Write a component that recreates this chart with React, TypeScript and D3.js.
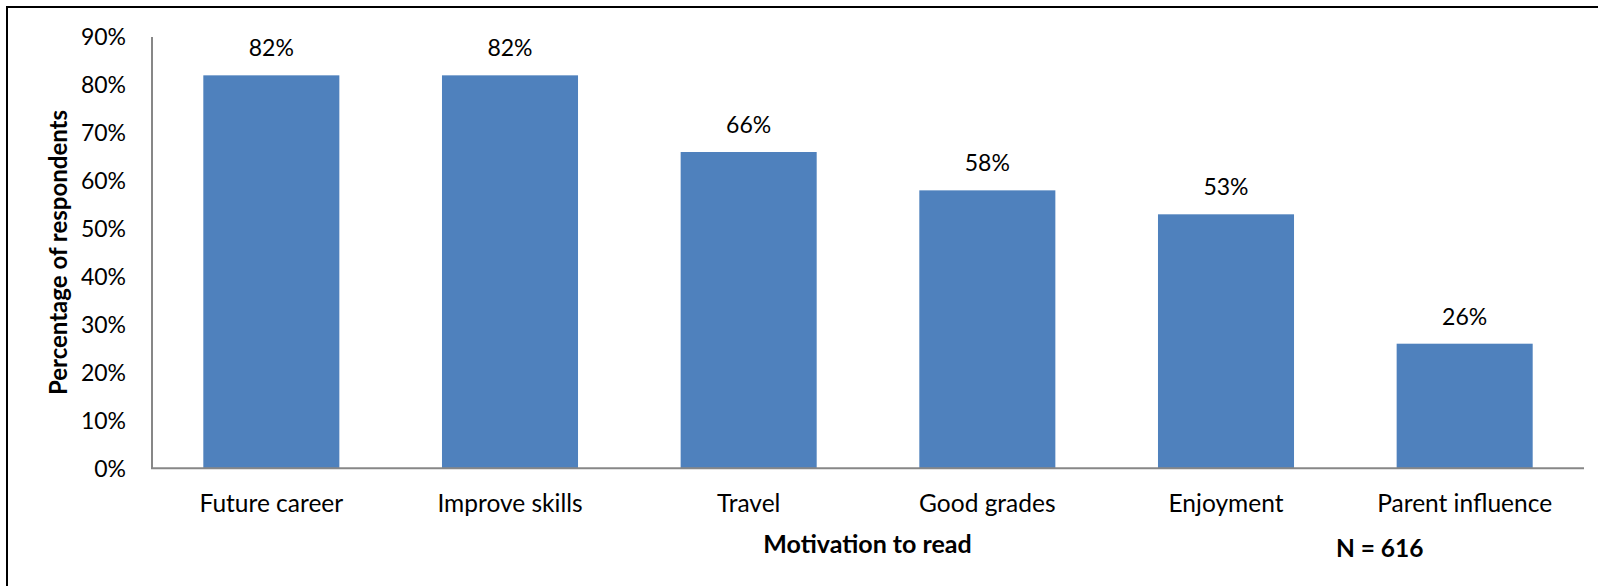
import React from "react";
import * as d3 from "d3";

const categories: string[] = ["Future career", "Improve skills", "Travel", "Good grades", "Enjoyment", "Parent influence"];
const values: number[] = [0.82, 0.82, 0.66, 0.58, 0.53, 0.26];
const yTicks: number[] = [0, 0.1, 0.2, 0.3, 0.4, 0.5, 0.6, 0.7, 0.8, 0.9];
const yTitle = "Percentage of respondents";
const xTitle = "Motivation to read";
const note = "N = 616";

const W = 1598;
const H = 586;
const FONT = "Lato, 'Open Sans', sans-serif";

export default function App() {
  const x = d3.scaleBand<string>().domain(categories).range([152, 1584]).paddingInner(0.43).paddingOuter(0.215);
  const y = d3.scaleLinear().domain([0, 0.9]).range([468.3, 37]);
  const fmt = d3.format(".0%");
  const axisColor = "#878787";
  return (
    <svg width={W} height={H} style={{ position: "absolute", left: 0, top: 0, background: "#fff" }} fontFamily={FONT}>
      <rect x={7} y={7} width={1640} height={640} fill="none" stroke="#000" strokeWidth={2} />
      {categories.map((c, i) => (
        <rect key={c} x={x(c)} y={y(values[i])} width={x.bandwidth()} height={y(0) - y(values[i])} fill="#4F81BD" />
      ))}
      <line x1={152} x2={152} y1={y(0.9)} y2={y(0)} stroke={axisColor} strokeWidth={2} />
      <line x1={151} x2={1584} y1={y(0)} y2={y(0)} stroke={axisColor} strokeWidth={2} />
      {yTicks.map((t) => (
        <text key={t} x={126} y={y(t)} dy="0.36em" textAnchor="end" fontSize={23} fill="#000">{fmt(t)}</text>
      ))}
      {categories.map((c, i) => (
        <text key={"v" + c} x={(x(c) as number) + x.bandwidth() / 2} y={y(values[i]) - 19} textAnchor="middle" fontSize={23} fill="#000">{fmt(values[i])}</text>
      ))}
      {categories.map((c) => (
        <text key={"l" + c} x={(x(c) as number) + x.bandwidth() / 2} y={512.3} textAnchor="middle" fontSize={24.5} fill="#000">{c}</text>
      ))}
      <text transform={`translate(66.5,252.5) rotate(-90)`} textAnchor="middle" fontSize={24} fontWeight="bold" fill="#000">{yTitle}</text>
      <text x={867.5} y={552.7} textAnchor="middle" fontSize={25} fontWeight="bold" fill="#000">{xTitle}</text>
      <text x={1379.7} y={556.7} textAnchor="middle" fontSize={24.5} fontWeight="bold" fill="#000">{note}</text>
    </svg>
  );
}
